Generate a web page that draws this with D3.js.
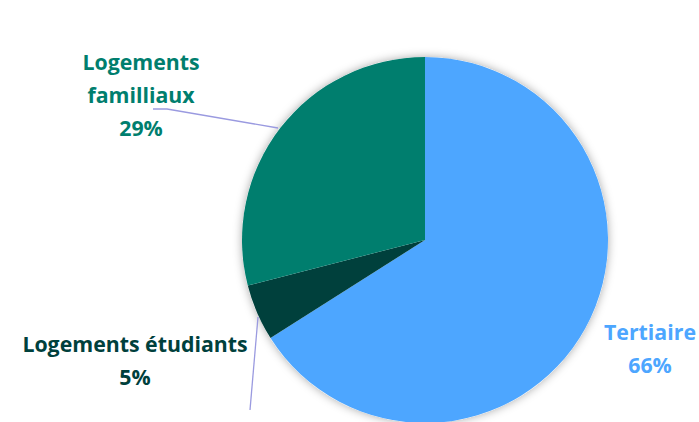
<!DOCTYPE html>
<html><head><meta charset="utf-8">
<script src="https://cdn.jsdelivr.net/npm/d3@7"></script>
<style>body{margin:0;background:#fff;}svg{display:block;}</style>
</head><body>
<script>
const categories = ["Tertiaire", "Logements étudiants", "Logements familliaux"];
const values = [66, 5, 29];
const colors = ["#4DA6FF", "#00403C", "#007E6E"];
const labelLines = [["Tertiaire", "66%"], ["Logements étudiants", "5%"], ["Logements", "familliaux", "29%"]];

const W = 699, H = 422;
const svg = d3.select("body").append("svg").attr("width", W).attr("height", H);
const defs = svg.append("defs");
const f = defs.append("filter").attr("id", "sh").attr("x", "-20%").attr("y", "-20%").attr("width", "140%").attr("height", "140%");
f.append("feDropShadow").attr("dx", 0).attr("dy", 0).attr("stdDeviation", 5).attr("flood-color", "#000").attr("flood-opacity", 0.35);

const cx = 425, cy = 240, r = 183;
const pie = d3.pie().sort(null).value(d => d)(values);
const arc = d3.arc().innerRadius(0).outerRadius(r);
const g = svg.append("g").attr("transform", `translate(${cx},${cy})`);
g.append("circle").attr("r", r).attr("fill", "#fff").attr("filter", "url(#sh)");
g.selectAll("path.s").data(pie).join("path").attr("class", "s")
  .attr("d", arc).attr("fill", (d, i) => colors[i]);

// leader lines
const lc = "#9A9AE0";
svg.append("polyline").attr("points", "153,109 167,109 278,128").attr("fill", "none").attr("stroke", lc).attr("stroke-width", 1.3);
svg.append("line").attr("x1", 258).attr("y1", 317).attr("x2", 250).attr("y2", 410).attr("stroke", lc).attr("stroke-width", 1.3);

const labelPos = [{x: 650, y: 340}, {x: 135, y: 352}, {x: 141, y: 70}];
const lh = 33;
labelLines.forEach((lines, i) => {
  const t = svg.append("text").attr("text-anchor", "middle")
    .attr("font-family", "'Open Sans', sans-serif").attr("font-weight", 700)
    .attr("font-size", 21.3).attr("fill", colors[i]);
  lines.forEach((s, j) => {
    t.append("tspan").attr("x", labelPos[i].x).attr("y", labelPos[i].y + j * lh).text(s);
  });
});
</script>
</body></html>
